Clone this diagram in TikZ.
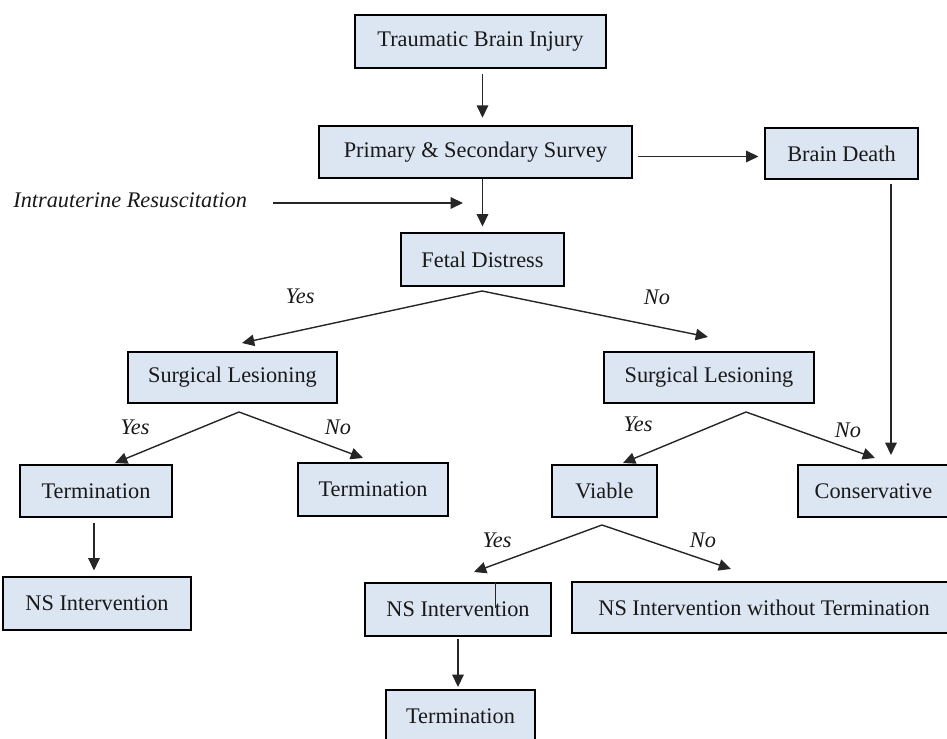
\documentclass[tikz,border=0pt]{standalone}
\usepackage{fontspec}
\setmainfont{Liberation Serif}
\usetikzlibrary{arrows.meta}
\definecolor{boxfill}{HTML}{DCE6F2}
\begin{document}
\begin{tikzpicture}[x=0.02cm,y=-0.02cm,
  box/.style={draw=black, line width=1.4pt, fill=boxfill, inner sep=0pt,
    font=\fontsize{12.7}{15}\selectfont, text=black!90},
  arr/.style={draw=black!85, line width=0.8pt, -{Triangle[length=7pt,width=6.5pt]}},
  lbl/.style={font=\fontsize{12.7}{15}\selectfont\itshape, text=black!90, inner sep=0pt}]
\useasboundingbox (0,0) rectangle (947,739);
% boxes
\node[box, minimum width=5.02cm, minimum height=1.06cm] (tbi) at (480.5,41.5) {Traumatic Brain Injury};
\node[box, minimum width=6.26cm, minimum height=1.04cm] (pss) at (475.5,152) {Primary \& Secondary Survey};
\node[box, minimum width=3.06cm, minimum height=1.02cm] (bd) at (841.5,153.5) {Brain Death};
\node[box, minimum width=3.26cm, minimum height=1.06cm] (fd) at (482.5,259.5) {Fetal Distress};
\node[box, minimum width=4.18cm, minimum height=1.02cm] (sl1) at (232.5,377.5) {Surgical Lesioning};
\node[box, minimum width=4.20cm, minimum height=1.02cm] (sl2) at (709,377.5) {Surgical Lesioning};
\node[box, minimum width=3.04cm, minimum height=1.04cm] (t1) at (96,491) {Termination};
\node[box, minimum width=3.00cm, minimum height=1.06cm] (t2) at (373,489.5) {Termination};
\node[box, minimum width=2.10cm, minimum height=1.04cm] (via) at (604.5,491) {Viable};
\node[box, minimum width=3.02cm, minimum height=1.04cm] (cons) at (873.5,491) {Conservative};
\node[box, minimum width=3.76cm, minimum height=1.06cm] (ns1) at (97,603.5) {NS Intervention};
\node[box, minimum width=3.72cm, minimum height=1.06cm] (ns2) at (458,609.5) {NS Intervention};
\node[box, minimum width=7.68cm, minimum height=1.02cm] (nswt) at (764,607.5) {NS Intervention without Termination};
\node[box, minimum width=2.98cm, minimum height=1.06cm] (t3) at (460.5,716.5) {Termination};
% side text
\node[lbl, anchor=west] (ir) at (13,200) {Intrauterine Resuscitation};
% coordinates
\coordinate (irEnd) at (463,203);
\coordinate (fdS) at (482,291);
\coordinate (fdL) at (242,343);
\coordinate (fdR) at (708,337);
\coordinate (s1S) at (239,412);
\coordinate (s1L) at (115,463);
\coordinate (s1R) at (363,458);
\coordinate (s2S) at (746,412);
\coordinate (s2L) at (623,463);
\coordinate (s2R) at (875,458);
\coordinate (vS) at (602,525);
\coordinate (vL) at (474,572);
\coordinate (vR) at (731,569);
% connectors
\draw[arr, shorten <=3pt, shorten >=4pt] (tbi.south -| fd.north) -- (pss.north -| fd.north);
\draw[arr, shorten >=3pt] (pss.south -| fd.north) -- (fd.north);
\draw[arr, shorten <=3pt, shorten >=3pt] ([yshift=-0.09cm]pss.east) -- ([yshift=-0.09cm]pss.east -| bd.west);
\draw[arr] (ir.east) ++(26,3) coordinate (irStart) (irStart) -- (irEnd);
\draw[arr] (fdS) -- (fdL);
\draw[arr] (fdS) -- (fdR);
\draw[arr] (s1S) -- (s1L);
\draw[arr] (s1S) -- (s1R);
\draw[arr] (s2S) -- (s2L);
\draw[arr] (s2S) -- (s2R);
\draw[arr, shorten <=2pt, shorten >=5pt] ([xshift=0.99cm]bd.south) -- ([xshift=0.99cm]bd.south |- cons.north);
\draw[arr, shorten <=3pt, shorten >=3pt] (t1.south -| 94,0) -- (ns1.north -| 94,0);
\draw[arr] (vS) -- (vL);
\draw[arr] (vS) -- (vR);
\draw[arr, shorten <=1pt, shorten >=1pt] (ns2.south) -- (ns2.south |- t3.north);
\draw[black!85, line width=0.5pt] (ns2.north -| 495,0) -- ++(0,26);
% labels
\node[lbl] (y1) at (300,296) {Yes};
\node[lbl] (n1) at (657,297) {No};
\node[lbl] (y2) at (135,427) {Yes};
\node[lbl] (n2) at (338,427) {No};
\node[lbl] (y3) at (638,424) {Yes};
\node[lbl] (n3) at (848,430) {No};
\node[lbl] (y4) at (497,540) {Yes};
\node[lbl] (n4) at (703,540) {No};
\end{tikzpicture}
\end{document}
